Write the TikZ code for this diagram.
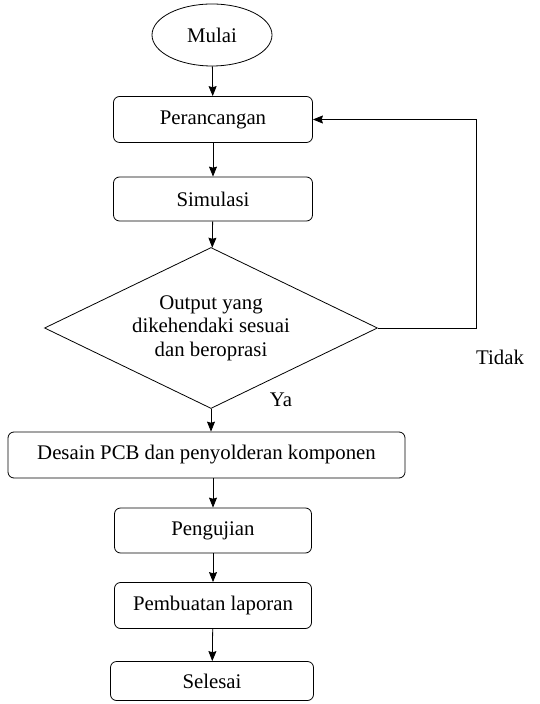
\documentclass[tikz,border=0pt]{standalone}
\usepackage{fontspec}
\setmainfont{Liberation Serif}
\usetikzlibrary{shapes.geometric, arrows.meta}
\tikzset{
	proses/.style={draw, rounded corners=3pt, minimum height=23pt, inner sep=2pt},
	terminal/.style={draw, ellipse, minimum width=60pt, minimum height=31pt, inner sep=0pt},
	keputusan/.style={draw, diamond, aspect=2.07, minimum width=166.5pt, minimum height=80.5pt, inner sep=0pt, align=center}
}
\begin{document}
\begin{tikzpicture}[>={Stealth[length=5pt, width=4pt, inset=0.6pt]}, x=0.5pt, y=-0.5pt, font=\fontsize{10.4}{11.75}\selectfont]
	\useasboundingbox (0,0) rectangle (539,704);
	\node[terminal] (mulai) at (212,35) {Mulai};
	\node[proses, minimum width=99.5pt] (rancang) at (213,119.5) {Perancangan};
	\node[proses, minimum width=99.5pt, minimum height=22pt] (simulasi) at (213,199) {Simulasi};
	\node[keputusan] (cek) at (211,328) {Output yang\\dikehendaki sesuai\\dan beroprasi};
	\node[proses, minimum width=198.5pt] (pcb) at (206.5,455) {Desain PCB dan penyolderan komponen};
	\node[proses, minimum width=98.5pt, minimum height=22.5pt] (uji) at (213,530.5) {Pengujian};
	\node[proses, minimum width=98.5pt] (laporan) at (213,605.5) {Pembuatan laporan};
	\node[proses, minimum width=101.5pt, minimum height=19.5pt] (selesai) at (212,681) {Selesai};
	% jalur utama
	\draw[->] (mulai) -- (rancang);
	\draw[->] (rancang) -- (simulasi);
	\draw[->] (simulasi) -- (cek);
	\draw[->] (cek.south) -- (cek.south |- pcb.north);
	\draw[->] (pcb.south -| uji.north) -- (uji);
	\draw[->] (uji) -- (laporan);
	\draw[->] (laporan) -- (selesai);
	% kembali jika tidak sesuai
	\coordinate (balik) at (476,328);
	\draw[->] (cek.east) -- (balik) |- (rancang.east);
	\node (tidak) at (500,357) {Tidak};
	\node (ya) at (281,400) {Ya};
\end{tikzpicture}
\end{document}
